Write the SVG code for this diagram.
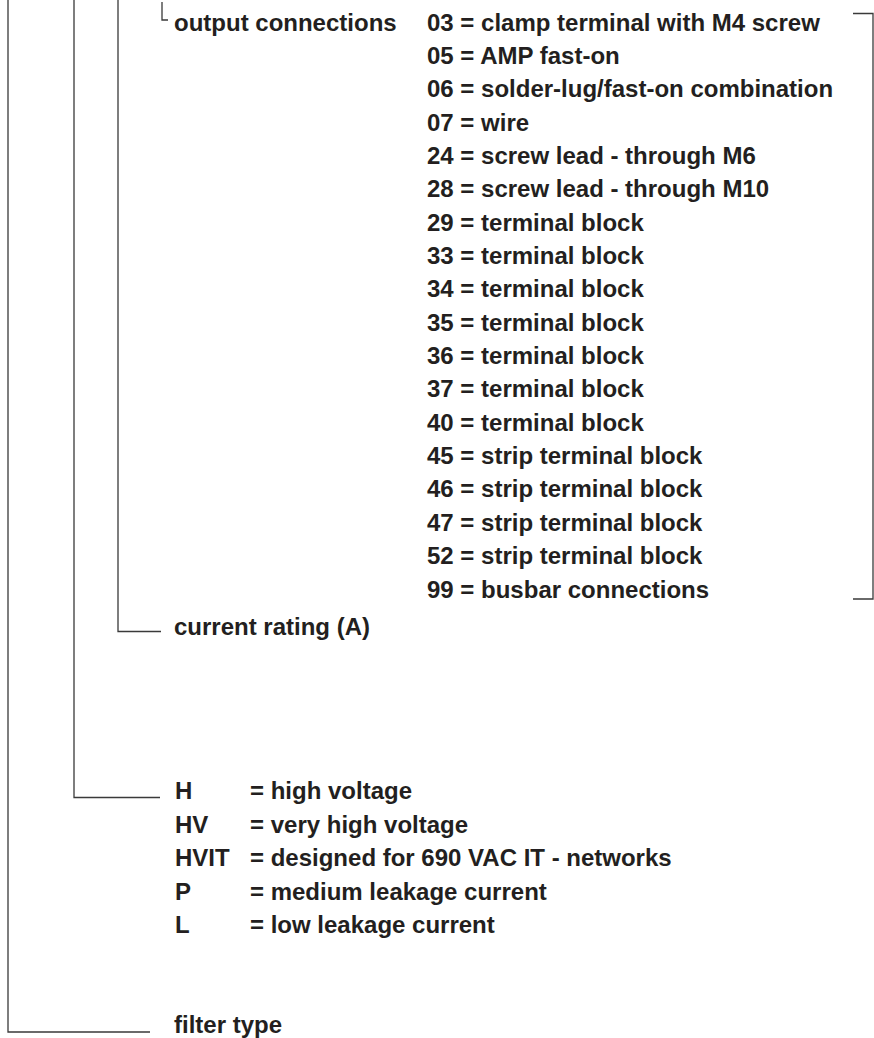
<svg xmlns="http://www.w3.org/2000/svg" width="874" height="1038" viewBox="0 0 874 1038">
<style>
.t{font-family:"Liberation Sans",Arial,sans-serif;font-size:24px;font-weight:bold;fill:#231f20}
.l{fill:none;stroke:#3a3a3a;stroke-width:1.3}
</style>
<rect width="874" height="1038" fill="#fff"/>
<g id="connectors">
<path class="l" d="M8,0 V1032 H150"/>
<path class="l" d="M74,0 V797.5 H160"/>
<path class="l" d="M118,0 V631.5 H161"/>
<path class="l" d="M162,2 V20 H168"/>
<path class="l" d="M853,13.5 H873 V599 H853"/>
</g>
<g id="output-connections">
<text class="t" x="174" y="30.5">output connections</text>
<text class="t" x="427" y="30.5">03 = clamp terminal with M4 screw</text>
<text class="t" x="427" y="63.9">05 = AMP fast-on</text>
<text class="t" x="427" y="97.2">06 = solder-lug/fast-on combination</text>
<text class="t" x="427" y="130.6">07 = wire</text>
<text class="t" x="427" y="163.9">24 = screw lead - through M6</text>
<text class="t" x="427" y="197.3">28 = screw lead - through M10</text>
<text class="t" x="427" y="230.6">29 = terminal block</text>
<text class="t" x="427" y="264">33 = terminal block</text>
<text class="t" x="427" y="297.3">34 = terminal block</text>
<text class="t" x="427" y="330.7">35 = terminal block</text>
<text class="t" x="427" y="364">36 = terminal block</text>
<text class="t" x="427" y="397.4">37 = terminal block</text>
<text class="t" x="427" y="430.7">40 = terminal block</text>
<text class="t" x="427" y="464.1">45 = strip terminal block</text>
<text class="t" x="427" y="497.4">46 = strip terminal block</text>
<text class="t" x="427" y="530.8">47 = strip terminal block</text>
<text class="t" x="427" y="564.1">52 = strip terminal block</text>
<text class="t" x="427" y="597.5">99 = busbar connections</text>
</g>
<g id="current-rating">
<text class="t" x="174" y="635">current rating (A)</text>
</g>
<g id="voltage">
<text class="t" x="175" y="799">H</text><text class="t" x="250" y="799">= high voltage</text>
<text class="t" x="175" y="832.5">HV</text><text class="t" x="250" y="832.5">= very high voltage</text>
<text class="t" x="175" y="866">HVIT</text><text class="t" x="250" y="866">= designed for 690 VAC IT - networks</text>
<text class="t" x="175" y="899.5">P</text><text class="t" x="250" y="899.5">= medium leakage current</text>
<text class="t" x="175" y="933">L</text><text class="t" x="250" y="933">= low leakage current</text>
</g>
<g id="filter-type">
<text class="t" x="174" y="1033">filter type</text>
</g>
</svg>
